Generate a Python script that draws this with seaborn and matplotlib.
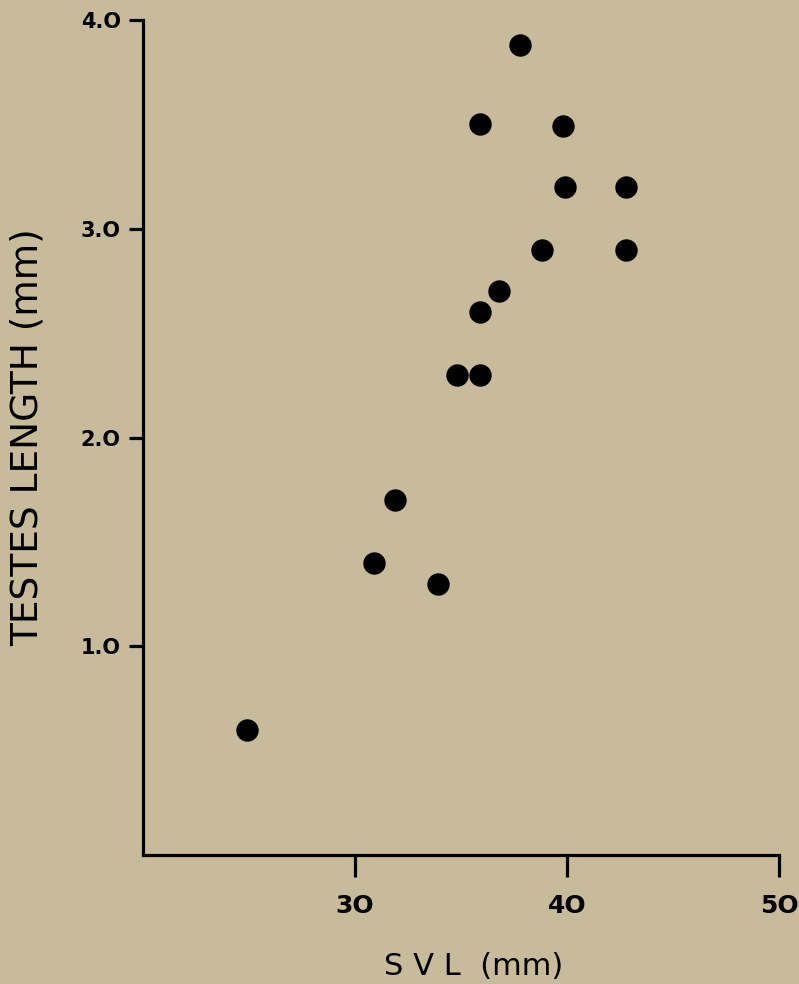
import numpy as np
import pandas as pd
import seaborn as sns
import matplotlib.pyplot as plt

# values
svl = [24.9, 30.9, 31.9, 33.9, 34.8, 35.9, 35.9, 35.9, 36.8, 37.8, 38.8, 39.8, 39.9, 42.8, 42.8]
testes = [0.6, 1.4, 1.7, 1.3, 2.3, 2.3, 2.6, 3.5, 2.7, 3.88, 2.9, 3.49, 3.2, 3.2, 2.9]
x_ticks = [30, 40, 50]
y_ticks = [1.0, 2.0, 3.0, 4.0]

bg = '#c8bb9c'
df = pd.DataFrame({'SVL': svl, 'Testes': testes})

sns.set_style('ticks')
plt.rcParams['font.family'] = ['DejaVu Sans']
plt.rcParams['text.color'] = 'black'
plt.rcParams['axes.labelcolor'] = 'black'

fig = plt.figure(figsize=(7.99, 9.84), dpi=100, facecolor=bg)
ax = fig.add_axes([143/799, 1 - 855/984, 636/799, 835/984])
ax.set_facecolor(bg)

sns.scatterplot(x='SVL', y='Testes', data=df, ax=ax, s=260, color='black',
                edgecolor='black', linewidth=0, zorder=3)

ax.set_xlim(20, 50)
ax.set_ylim(0, 4.0)
ax.set_xticks(x_ticks)
ax.set_xticklabels(['3O', '4O', '5O'], fontsize=18, fontweight='bold')
ax.set_yticks(y_ticks)
ax.set_yticklabels(['1.O', '2.O', '3.O', '4.O'], fontsize=15, fontweight='bold')

for s in ['top', 'right']:
    ax.spines[s].set_visible(False)
for s in ['left', 'bottom']:
    ax.spines[s].set_linewidth(2.3)
    ax.spines[s].set_color('black')

ax.tick_params(axis='x', direction='out', length=16, width=2.3, pad=12, colors='black')
ax.tick_params(axis='y', direction='out', length=10, width=2.3, pad=6, colors='black')

ax.set_xlabel('S V L  (mm)', fontsize=22, va='center', color='black')
ax.xaxis.set_label_coords(0.52, -0.133)
ax.set_ylabel('TESTES LENGTH (mm)', fontsize=27, va='center', color='black')
ax.yaxis.set_label_coords(-0.182, 0.5)

fig.savefig('out.png', dpi=100, facecolor=bg)
